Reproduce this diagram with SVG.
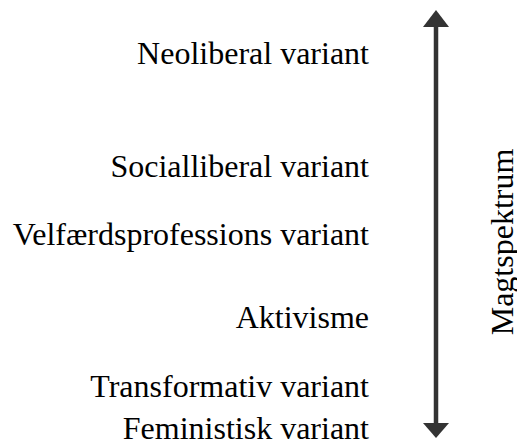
<svg xmlns="http://www.w3.org/2000/svg" width="517" height="443" viewBox="0 0 517 443">
<style>
text{font-family:'Liberation Serif','Times New Roman','DejaVu Serif',serif;font-size:32px;fill:#000;text-anchor:end}
.ax{stroke:#333;stroke-width:4.5;fill:none}
.ah{fill:#333}
</style>
<rect width="517" height="443" fill="#fff"/>
<g id="n1"><text x="369" y="64">Neoliberal variant</text></g>
<g id="n2"><text x="369" y="177">Socialliberal variant</text></g>
<g id="n3"><text x="369" y="245">Velfærdsprofessions variant</text></g>
<g id="n4"><text x="369" y="328">Aktivisme</text></g>
<g id="n5"><text x="369" y="397">Transformativ variant</text></g>
<g id="n6"><text x="369" y="439">Feministisk variant</text></g>
<g id="connectors">
<line class="ax" x1="436" y1="26" x2="436" y2="424"/>
<polygon class="ah" points="436,10 449,27 423,27"/>
<polygon class="ah" points="436,438 449,423 423,423"/>
</g>
<g id="label"><text style="text-anchor:middle" transform="translate(513,242) rotate(-90)">Magtspektrum</text></g>
</svg>
